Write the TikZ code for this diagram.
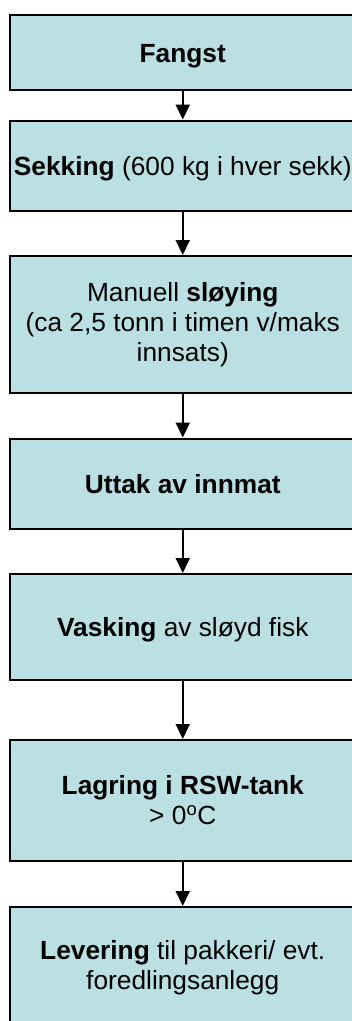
\documentclass[tikz,border=0pt]{standalone}
\usepackage{fontspec}
\setmainfont{Liberation Sans}
\usetikzlibrary{arrows.meta}
\definecolor{boxfill}{RGB}{186,224,228}
\tikzset{
  stepbox/.style={draw=black, line width=2pt, fill=boxfill, rectangle, inner sep=0pt,
    minimum width=346.5pt, align=center, font=\fontsize{26.3}{30}\selectfont},
  oneline/.style={text height=19pt, text depth=0pt},
  flow/.style={line width=2pt, -{Triangle[width=14pt,length=15pt]}}
}
\begin{document}
\begin{tikzpicture}[x=1pt,y=-1pt]
\useasboundingbox (0,0) rectangle (352,1021);
\clip (0,0) rectangle (352,1021);
\fill[white] (0,0) rectangle (352,1021);
\node[stepbox, oneline, minimum height=75pt] (b1) at (182.75,52.5) {\textbf{Fangst}};
\node[stepbox, oneline, minimum height=90.2pt] (b2) at (182.75,165.6) {\textbf{Sekking} (600 kg i hver sekk)};
\node[stepbox, minimum height=137pt] (b3) at (182.75,324.5) {Manuell \textbf{sløying}\\(ca 2,5 tonn i timen v/maks\\innsats)};
\node[stepbox, oneline, minimum height=90pt] (b4) at (182.75,483.5) {\textbf{Uttak av innmat}};
\node[stepbox, oneline, minimum height=106pt] (b5) at (182.75,627) {\textbf{Vasking} av sløyd fisk};
\node[stepbox, minimum height=121pt] (b6) at (182.75,800.5) {\textbf{Lagring i RSW-tank}\\> 0\textsuperscript{o}C};
\node[stepbox, minimum height=121pt] (b7) at (182.75,967.5) {\textbf{Levering} til pakkeri/ evt.\\foredlingsanlegg};
\draw[flow] (b1.south) -- (b2.north);
\draw[flow] (b2.south) -- (b3.north);
\draw[flow] (b3.south) -- (b4.north);
\draw[flow] (b4.south) -- (b5.north);
\draw[flow] (b5.south) -- (b6.north);
\draw[flow] (b6.south) -- (b7.north);
\end{tikzpicture}
\end{document}
